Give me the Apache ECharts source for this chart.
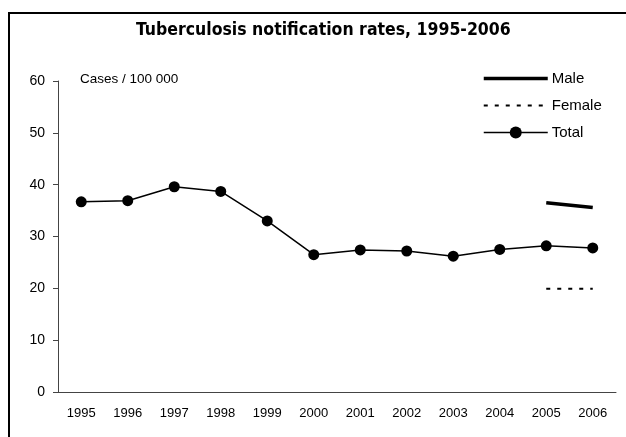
<!DOCTYPE html>
<html>
<head>
<meta charset="utf-8">
<script src="https://cdn.jsdelivr.net/npm/echarts@6/dist/echarts.min.js"></script>
<style>
  html, body { margin: 0; padding: 0; background: #fff; }
  #chart { width: 626px; height: 437px; }
</style>
</head>
<body>
<div id="chart"></div>
<script>
  const years = ['1995', '1996', '1997', '1998', '1999', '2000', '2001', '2002', '2003', '2004', '2005', '2006'];
  const total = [36.7, 36.9, 39.6, 38.7, 33.0, 26.5, 27.4, 27.2, 26.2, 27.5, 28.2, 27.8];
  const male = [null, null, null, null, null, null, null, null, null, null, 36.5, 35.6];
  const female = [null, null, null, null, null, null, null, null, null, null, 19.9, 19.9];
  const yTicks = [0, 10, 20, 30, 40, 50, 60];

  const myChart = echarts.init(document.getElementById('chart'));

  const axisFont = { fontFamily: 'Liberation Sans', fontSize: 13, color: '#000' };

  const option = {
    animation: false,
    title: {
      text: 'Tuberculosis notification rates, 1995-2006',
      left: 131,
      top: 16,
      textStyle: {
        fontFamily: 'DejaVu Sans Condensed',
        fontWeight: 'bold',
        fontSize: 17.5,
        color: '#000'
      }
    },
    legend: {
      orient: 'vertical',
      left: 477,
      top: 66,
      itemWidth: 64,
      itemHeight: 15,
      itemGap: 12,
      textStyle: { fontFamily: 'Liberation Sans', fontSize: 15, color: '#000', padding: [0, 0, 0, -1] },
      data: [
        { name: 'Male', itemStyle: { opacity: 0 }, lineStyle: { width: 3.5 } },
        { name: 'Female', itemStyle: { opacity: 0 }, lineStyle: { width: 2 } },
        { name: 'Total', lineStyle: { width: 1.5 } }
      ]
    },
    grid: { left: 58, right: 10, top: 81, bottom: 45 },
    xAxis: {
      type: 'category',
      data: years,
      boundaryGap: true,
      axisLine: { lineStyle: { color: '#444', width: 1 } },
      axisTick: { length: 5, lineStyle: { color: '#444' } },
      axisLabel: Object.assign({ margin: 15 }, axisFont)
    },
    yAxis: {
      type: 'value',
      min: yTicks[0],
      max: yTicks[yTicks.length - 1],
      interval: 10,
      splitLine: { show: false },
      axisLine: { show: true, lineStyle: { color: '#444', width: 1 } },
      axisTick: { show: true, length: 5, lineStyle: { color: '#444' } },
      axisLabel: Object.assign({ margin: 13 }, axisFont, { fontSize: 14 })
    },
    graphic: [
      {
        type: 'polyline',
        shape: { points: [[9, 437], [9, 13], [626, 13]] },
        style: { stroke: '#000', lineWidth: 2, fill: null }
      },
      {
        type: 'text',
        left: 80,
        top: 72,
        style: { text: 'Cases / 100 000', fontFamily: 'Liberation Sans', fontSize: 13.5, fill: '#000' }
      }
    ],
    series: [
      {
        name: 'Male',
        type: 'line',
        data: male,
        symbol: 'none',
        lineStyle: { color: '#000', width: 3.5 },
        itemStyle: { color: '#000' }
      },
      {
        name: 'Female',
        type: 'line',
        data: female,
        symbol: 'none',
        lineStyle: { color: '#000', width: 2, type: [4, 7] },
        itemStyle: { color: '#000' }
      },
      {
        name: 'Total',
        type: 'line',
        data: total,
        symbol: 'circle',
        symbolSize: 11,
        lineStyle: { color: '#000', width: 1.5 },
        itemStyle: { color: '#000' }
      }
    ]
  };
  myChart.setOption(option);
</script>
</body>
</html>
